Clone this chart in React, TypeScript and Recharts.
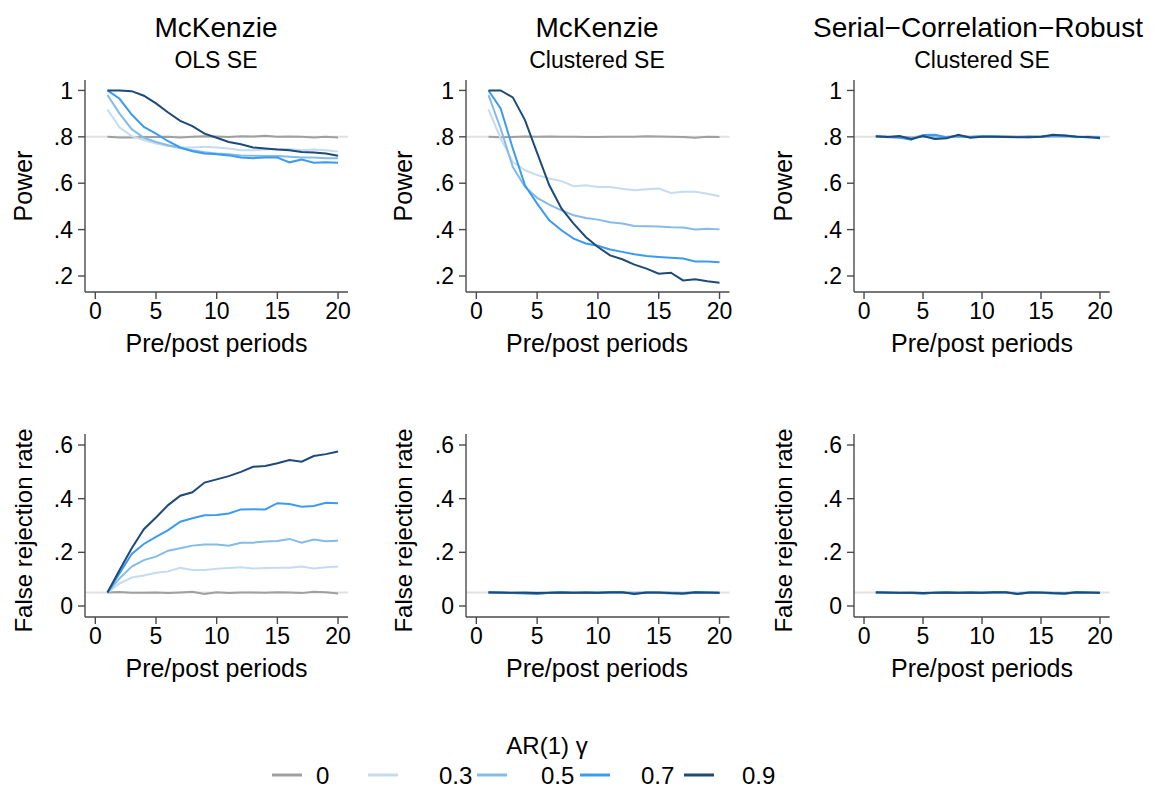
import { FC } from 'react'
import { LineChart, Line, XAxis, YAxis, ReferenceLine } from 'recharts'

// periods on the x axis
const periods = [1, 2, 3, 4, 5, 6, 7, 8, 9, 10, 11, 12, 13, 14, 15, 16, 17, 18, 19, 20]
const xTicks = [0, 5, 10, 15, 20]
const powerTicks = [0.2, 0.4, 0.6, 0.8, 1]
const rejectTicks = [0, 0.2, 0.4, 0.6]

// AR(1) gamma values shown in the legend
const gammas = ['0', '0.3', '0.5', '0.7', '0.9']
const gammaColors = ['#a0a0a0', '#c4dcf1', '#84bbe8', '#3b9bf1', '#1d4a78']

// McKenzie, OLS SE - power
const olsPow0 = [0.8, 0.797, 0.797, 0.799, 0.799, 0.8, 0.797, 0.8, 0.803, 0.801, 0.799, 0.802, 0.801, 0.805, 0.8, 0.801, 0.8, 0.797, 0.8, 0.797]
const olsPow3 = [0.918, 0.84, 0.803, 0.786, 0.771, 0.76, 0.754, 0.754, 0.757, 0.754, 0.75, 0.742, 0.742, 0.745, 0.747, 0.748, 0.742, 0.745, 0.742, 0.737]
const olsPow5 = [0.98, 0.9, 0.833, 0.796, 0.778, 0.764, 0.752, 0.742, 0.734, 0.728, 0.725, 0.72, 0.718, 0.717, 0.717, 0.714, 0.711, 0.711, 0.708, 0.708]
const olsPow7 = [1, 0.964, 0.896, 0.843, 0.814, 0.781, 0.754, 0.738, 0.728, 0.725, 0.72, 0.711, 0.708, 0.711, 0.711, 0.69, 0.702, 0.688, 0.69, 0.688]
const olsPow9 = [1, 1, 0.997, 0.977, 0.944, 0.905, 0.869, 0.846, 0.814, 0.796, 0.778, 0.768, 0.754, 0.75, 0.745, 0.742, 0.735, 0.732, 0.728, 0.718]

// McKenzie, clustered SE - power
const clPow0 = [0.8, 0.798, 0.799, 0.801, 0.8, 0.801, 0.8, 0.8, 0.799, 0.799, 0.8, 0.8, 0.8, 0.802, 0.801, 0.8, 0.799, 0.796, 0.8, 0.799]
const clPow3 = [0.918, 0.793, 0.692, 0.656, 0.635, 0.62, 0.609, 0.587, 0.591, 0.584, 0.584, 0.576, 0.57, 0.574, 0.577, 0.558, 0.563, 0.563, 0.555, 0.544]
const clPow5 = [0.98, 0.836, 0.67, 0.584, 0.537, 0.508, 0.483, 0.462, 0.45, 0.443, 0.432, 0.426, 0.416, 0.414, 0.413, 0.41, 0.409, 0.4, 0.404, 0.401]
const clPow7 = [1, 0.922, 0.75, 0.591, 0.512, 0.44, 0.397, 0.361, 0.34, 0.33, 0.314, 0.304, 0.294, 0.286, 0.282, 0.279, 0.275, 0.263, 0.263, 0.259]
const clPow9 = [1, 1, 0.97, 0.872, 0.731, 0.591, 0.491, 0.426, 0.368, 0.325, 0.289, 0.272, 0.249, 0.232, 0.21, 0.214, 0.181, 0.186, 0.177, 0.171]

// Serial-correlation-robust, clustered SE - power
const scrPow0 = [0.801, 0.799, 0.8, 0.798, 0.802, 0.799, 0.8, 0.803, 0.8, 0.801, 0.8, 0.802, 0.799, 0.8, 0.801, 0.803, 0.8, 0.799, 0.8, 0.798]
const scrPow3 = [0.802, 0.8, 0.797, 0.796, 0.803, 0.8, 0.798, 0.804, 0.799, 0.802, 0.801, 0.8, 0.801, 0.799, 0.802, 0.803, 0.801, 0.798, 0.799, 0.8]
const scrPow5 = [0.801, 0.798, 0.796, 0.794, 0.804, 0.801, 0.797, 0.805, 0.798, 0.801, 0.802, 0.799, 0.8, 0.798, 0.801, 0.804, 0.802, 0.799, 0.8, 0.799]
const scrPow7 = [0.801, 0.8, 0.797, 0.788, 0.808, 0.809, 0.798, 0.803, 0.799, 0.802, 0.801, 0.8, 0.799, 0.801, 0.799, 0.805, 0.806, 0.801, 0.797, 0.799]
const scrPow9 = [0.803, 0.799, 0.803, 0.791, 0.803, 0.791, 0.794, 0.809, 0.796, 0.8, 0.8, 0.799, 0.798, 0.798, 0.8, 0.809, 0.806, 0.8, 0.799, 0.794]

// McKenzie, OLS SE - false rejection rate
const olsFr0 = [0.05, 0.052, 0.049, 0.049, 0.05, 0.048, 0.05, 0.053, 0.045, 0.051, 0.048, 0.05, 0.05, 0.049, 0.051, 0.05, 0.048, 0.053, 0.051, 0.047]
const olsFr3 = [0.05, 0.084, 0.106, 0.114, 0.124, 0.129, 0.142, 0.134, 0.134, 0.139, 0.142, 0.144, 0.14, 0.142, 0.143, 0.143, 0.147, 0.14, 0.144, 0.147]
const olsFr5 = [0.05, 0.103, 0.147, 0.171, 0.184, 0.206, 0.215, 0.225, 0.229, 0.229, 0.225, 0.236, 0.236, 0.24, 0.242, 0.25, 0.236, 0.248, 0.241, 0.243]
const olsFr7 = [0.05, 0.122, 0.194, 0.231, 0.258, 0.283, 0.314, 0.327, 0.338, 0.339, 0.345, 0.36, 0.361, 0.36, 0.383, 0.38, 0.37, 0.373, 0.385, 0.383]
const olsFr9 = [0.05, 0.134, 0.215, 0.286, 0.33, 0.376, 0.411, 0.424, 0.46, 0.472, 0.484, 0.5, 0.519, 0.522, 0.532, 0.544, 0.538, 0.559, 0.566, 0.576]

// McKenzie, clustered SE - false rejection rate
const clFr0 = [0.05, 0.051, 0.049, 0.05, 0.049, 0.048, 0.05, 0.051, 0.048, 0.05, 0.049, 0.05, 0.049, 0.05, 0.05, 0.049, 0.048, 0.051, 0.05, 0.049]
const clFr3 = [0.05, 0.05, 0.049, 0.05, 0.048, 0.049, 0.05, 0.05, 0.049, 0.05, 0.05, 0.049, 0.049, 0.05, 0.049, 0.05, 0.049, 0.05, 0.05, 0.049]
const clFr5 = [0.05, 0.049, 0.048, 0.049, 0.047, 0.048, 0.05, 0.049, 0.049, 0.05, 0.049, 0.05, 0.048, 0.05, 0.048, 0.049, 0.048, 0.05, 0.049, 0.049]
const clFr7 = [0.049, 0.048, 0.048, 0.047, 0.045, 0.049, 0.051, 0.048, 0.05, 0.048, 0.05, 0.05, 0.047, 0.049, 0.049, 0.047, 0.046, 0.049, 0.049, 0.048]
const clFr9 = [0.051, 0.05, 0.049, 0.049, 0.048, 0.049, 0.05, 0.049, 0.05, 0.049, 0.051, 0.051, 0.045, 0.05, 0.05, 0.048, 0.047, 0.051, 0.05, 0.049]

// Serial-correlation-robust, clustered SE - false rejection rate
const scrFr0 = [0.05, 0.05, 0.049, 0.05, 0.048, 0.049, 0.05, 0.05, 0.049, 0.05, 0.05, 0.05, 0.048, 0.05, 0.049, 0.049, 0.048, 0.05, 0.05, 0.049]
const scrFr3 = [0.05, 0.049, 0.049, 0.05, 0.048, 0.05, 0.049, 0.05, 0.049, 0.05, 0.05, 0.049, 0.048, 0.05, 0.049, 0.05, 0.049, 0.05, 0.049, 0.049]
const scrFr5 = [0.049, 0.049, 0.048, 0.049, 0.047, 0.049, 0.05, 0.049, 0.049, 0.05, 0.049, 0.05, 0.047, 0.05, 0.048, 0.048, 0.048, 0.05, 0.049, 0.049]
const scrFr7 = [0.049, 0.048, 0.048, 0.048, 0.046, 0.049, 0.05, 0.048, 0.05, 0.048, 0.05, 0.05, 0.046, 0.049, 0.049, 0.047, 0.046, 0.05, 0.049, 0.048]
const scrFr9 = [0.051, 0.05, 0.049, 0.049, 0.048, 0.049, 0.05, 0.049, 0.05, 0.049, 0.051, 0.051, 0.045, 0.05, 0.05, 0.048, 0.047, 0.051, 0.05, 0.049]

const FONT = '"Liberation Sans", Arial, Helvetica, sans-serif'
const AXIS = '#4a4a4a'
const YW = 80
const XH = 40
const MT = 14
const MR = 16
const X_DOMAIN: [number, number] = [-0.85, 20.82]
const TICK_FONT = 23

const toRows = (cols: number[][]) =>
  periods.map((t, i) => ({ t, g0: cols[0][i], g3: cols[1][i], g5: cols[2][i], g7: cols[3][i], g9: cols[4][i] }))

const keys = ['g0', 'g3', 'g5', 'g7', 'g9']

const fmt = (v: number) => (v === 0 ? '0' : v === 1 ? '1' : String(v).replace(/^0/, ''))

interface PanelProps {
  left: number
  top: number
  w: number
  h: number
  yDomain: [number, number]
  yTicks: number[]
  refY: number
  cols: number[][]
}

const Panel: FC<PanelProps> = ({ left, top, w, h, yDomain, yTicks, refY, cols }) => (
  <div style={{ position: 'absolute', left: left - YW, top: top - MT }}>
    <LineChart
      width={YW + w + MR}
      height={MT + h + XH}
      data={toRows(cols)}
      margin={{ top: MT, right: MR, bottom: 0, left: 0 }}
    >
      <XAxis
        dataKey="t"
        type="number"
        domain={X_DOMAIN}
        ticks={xTicks}
        allowDataOverflow
        height={XH}
        tickSize={7}
        tickMargin={4}
        stroke={AXIS}
        strokeWidth={1.4}
        tick={{ fill: '#000', fontSize: TICK_FONT, fontFamily: FONT }}
      />
      <YAxis
        type="number"
        domain={yDomain}
        ticks={yTicks}
        allowDataOverflow
        width={YW}
        tickSize={7}
        tickMargin={5}
        tickFormatter={fmt}
        stroke={AXIS}
        strokeWidth={1.4}
        tick={{ fill: '#000', fontSize: TICK_FONT, fontFamily: FONT }}
      />
      <ReferenceLine y={refY} stroke="#e2e2e2" strokeWidth={2} />
      {keys.map((k, i) => (
        <Line
          key={k}
          dataKey={k}
          type="linear"
          stroke={gammaColors[i]}
          strokeWidth={2}
          dot={false}
          isAnimationActive={false}
        />
      ))}
    </LineChart>
  </div>
)

// plot-area geometry per column
const cols3 = [
  { left: 85, w: 263, cx: 216.5, title: 'McKenzie', tx: 216, sub: 'OLS SE', sx: 216, ylx: 31.7 },
  { left: 465.5, w: 263.5, cx: 597, title: 'McKenzie', tx: 597, sub: 'Clustered SE', sx: 597, ylx: 411.7 },
  { left: 854.3, w: 255.7, cx: 982, title: 'Serial\u2212Correlation\u2212Robust', tx: 978, sub: 'Clustered SE', sx: 982, ylx: 791.7 },
]
const TOP_Y = 80
const TOP_H = 212
const BOT_Y = 434
const BOT_H = 183

const legendKeys = [
  { x1: 272, x2: 302, lx: 316 },
  { x1: 368, x2: 398, lx: 439 },
  { x1: 477, x2: 507, lx: 541 },
  { x1: 580, x2: 610, lx: 641 },
  { x1: 684, x2: 714, lx: 742 },
]

export default function App() {
  const powerData = [
    [olsPow0, olsPow3, olsPow5, olsPow7, olsPow9],
    [clPow0, clPow3, clPow5, clPow7, clPow9],
    [scrPow0, scrPow3, scrPow5, scrPow7, scrPow9],
  ]
  const rejectData = [
    [olsFr0, olsFr3, olsFr5, olsFr7, olsFr9],
    [clFr0, clFr3, clFr5, clFr7, clFr9],
    [scrFr0, scrFr3, scrFr5, scrFr7, scrFr9],
  ]
  return (
    <div
      style={{
        position: 'absolute',
        left: 0,
        top: 0,
        width: 1159,
        height: 789,
        background: '#fff',
        fontFamily: FONT,
        overflow: 'hidden',
      }}
    >
      {cols3.map((c, i) => (
        <Panel
          key={'p' + i}
          left={c.left}
          top={TOP_Y}
          w={c.w}
          h={TOP_H}
          yDomain={[0.131, 1.045]}
          yTicks={powerTicks}
          refY={0.8}
          cols={powerData[i]}
        />
      ))}
      {cols3.map((c, i) => (
        <Panel
          key={'r' + i}
          left={c.left}
          top={BOT_Y}
          w={c.w}
          h={BOT_H}
          yDomain={[-0.041, 0.641]}
          yTicks={rejectTicks}
          refY={0.05}
          cols={rejectData[i]}
        />
      ))}
      <svg
        width={1159}
        height={789}
        style={{ position: 'absolute', left: 0, top: 0, pointerEvents: 'none' }}
        fontFamily={FONT}
      >
        {cols3.map((c, i) => (
          <g key={'t' + i} fill="#000" textAnchor="middle">
            <text x={c.tx} y={36.7} fontSize={28}>{c.title}</text>
            <text x={c.sx} y={68} fontSize={23}>{c.sub}</text>
            <text x={c.cx} y={352} fontSize={25}>Pre/post periods</text>
            <text x={c.cx} y={677} fontSize={25}>Pre/post periods</text>
            <text transform={`translate(${c.ylx},${TOP_Y + TOP_H / 2}) rotate(-90)`} fontSize={25}>Power</text>
            <text transform={`translate(${c.ylx},${BOT_Y + BOT_H / 2 + 5}) rotate(-90)`} fontSize={24}>
              False rejection rate
            </text>
          </g>
        ))}
        <text x={547} y={754} fontSize={24} textAnchor="middle" fill="#000">AR(1) γ</text>
        {legendKeys.map((k, i) => (
          <g key={'l' + i}>
            <line x1={k.x1} x2={k.x2} y1={775} y2={775} stroke={gammaColors[i]} strokeWidth={3} />
            <text x={k.lx} y={784} fontSize={24} fill="#000">{gammas[i]}</text>
          </g>
        ))}
      </svg>
    </div>
  )
}
